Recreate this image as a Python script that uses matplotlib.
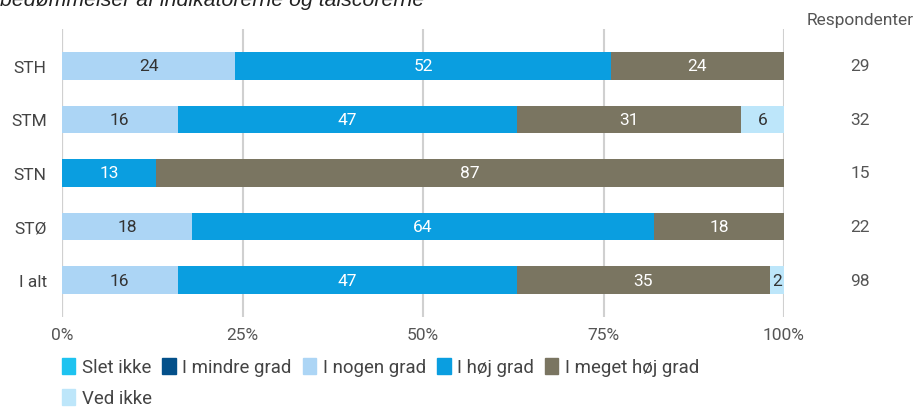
import matplotlib.pyplot as plt
from matplotlib.patches import Patch
import numpy as np

plt.rcParams['font.family'] = ['Roboto', 'DejaVu Sans']

groups = ["STH", "STM", "STN", "STØ", "I alt"]
respondents = [29, 32, 15, 22, 98]

categories = ["Slet ikke", "I mindre grad", "I nogen grad", "I høj grad", "I meget høj grad", "Ved ikke"]
colors = ["#1ec3f0", "#03508a", "#acd5f5", "#0a9ee0", "#7a7561", "#bde6fa"]
text_colors = ["white", "white", "#333333", "white", "white", "#333333"]

slet_ikke = [0, 0, 0, 0, 0]
mindre_grad = [0, 0, 0, 0, 0]
nogen_grad = [24, 16, 0, 18, 16]
hoej_grad = [52, 47, 13, 64, 47]
meget_hoej = [24, 31, 87, 18, 35]
ved_ikke = [0, 6, 0, 0, 2]

series = [slet_ikke, mindre_grad, nogen_grad, hoej_grad, meget_hoej, ved_ikke]

FS = 12.5

fig = plt.figure(figsize=(9.18, 4.10), dpi=100)
ax = fig.add_axes([62 / 918, 1 - 318 / 410, (784 - 62) / 918, (318 - 30) / 410])

y = np.arange(len(groups))
left = np.zeros(len(groups))
for vals, col, tcol in zip(series, colors, text_colors):
    vals = np.array(vals, dtype=float)
    ax.barh(y, vals, left=left, height=0.52, color=col, zorder=3)
    for i, v in enumerate(vals):
        if v > 0:
            ax.text(left[i] + v / 2, y[i], f"{int(v)}", ha="center", va="center",
                    color=tcol, fontsize=FS, zorder=4)
    left += vals

ax.set_xlim(0, 100)
ax.set_ylim(4.69, -0.69)
ax.set_xticks([0, 25, 50, 75, 100])
ax.set_xticklabels(["0%", "25%", "50%", "75%", "100%"], fontsize=FS, color="#555555")
ax.set_yticks(y)
ax.set_yticklabels(groups, fontsize=FS, color="#444444")
ax.tick_params(length=0, pad=11)
ax.tick_params(axis="x", pad=7)
ax.grid(axis="x", color="#d0d0d0", linewidth=1.5, zorder=0)
ax.axvline(0, color="#a8a8a8", linewidth=1.5, zorder=1)
for s in ax.spines.values():
    s.set_visible(False)

# Respondenter column
fig.text(860 / 918, 1 - 20 / 410, "Respondenter", ha="center", va="center",
         fontsize=FS, color="#555555")
for i, r in enumerate(respondents):
    fig_y = ax.transData.transform((0, y[i]))[1] / fig.bbox.height
    fig.text(860 / 918, fig_y, str(r), ha="center", va="center", fontsize=FS, color="#555555")

fig.text(0.0, 1 - 6.5 / 410, "bedømmelser af indikatorerne og talscorerne", ha="left",
         va="baseline", fontsize=15.3, style="italic", family=["Liberation Sans"], color="#222222")

handles = [Patch(facecolor=c, edgecolor=c, linewidth=1, joinstyle="round", label=l)
           for c, l in zip(colors, categories)]
leg_kw = dict(frameon=False, fontsize=13.4, handlelength=0.72, handleheight=0.95,
              handletextpad=0.35, columnspacing=0.6, labelcolor="#444444",
              borderpad=0, borderaxespad=0)
fig.legend(handles=handles[:5], loc="center left", bbox_to_anchor=(62 / 918, 1 - 368 / 410),
           ncol=5, **leg_kw)
fig.legend(handles=handles[5:], loc="center left", bbox_to_anchor=(62 / 918, 1 - 399 / 410),
           ncol=1, **leg_kw)

fig.savefig("out.png", dpi=100)
